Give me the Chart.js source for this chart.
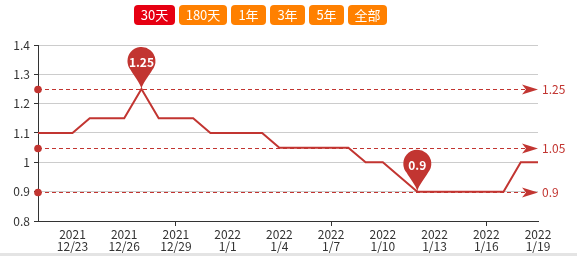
<!DOCTYPE html>
<html>
<head>
<meta charset="utf-8">
<script src="https://cdn.jsdelivr.net/npm/chart.js@4/dist/chart.umd.min.js"></script>
<style>
  html, body { margin: 0; padding: 0; background: #fff; }
  #wrap { position: relative; width: 577px; height: 256px; overflow: hidden; }
  #chart { position: absolute; left: 0; top: 0; }
  #range { position: absolute; left: 134px; top: 5px; display: flex; gap: 4px; }
  #range span {
    display: block; height: 20px; line-height: 20px; text-align: center;
    color: #fff; font: 13px "Noto Sans CJK SC", sans-serif; border-radius: 4px;
    background: #ff8000;
  }
  #range span.on { background: #e60012; }
  #foot { position: absolute; left: 0; top: 253px; width: 577px; height: 3px; background: #e4e4e4; }
</style>
</head>
<body>
<div id="wrap">
  <canvas id="chart" width="577" height="256"></canvas>
  <div id="range">
    <span class="on" style="width:41px">30天</span>
    <span style="width:48px">180天</span>
    <span style="width:35px">1年</span>
    <span style="width:35px">3年</span>
    <span style="width:35px">5年</span>
    <span style="width:39px">全部</span>
  </div>
  <div id="foot"></div>
</div>
<script>
// Daily values, 2021-12-21 .. 2022-01-19
const years = ['2021','2021','2021','2021','2021','2021','2021','2021','2021','2021','2021',
               '2022','2022','2022','2022','2022','2022','2022','2022','2022','2022',
               '2022','2022','2022','2022','2022','2022','2022','2022','2022'];
const days = ['12/21','12/22','12/23','12/24','12/25','12/26','12/27','12/28','12/29','12/30','12/31',
              '1/1','1/2','1/3','1/4','1/5','1/6','1/7','1/8','1/9','1/10',
              '1/11','1/12','1/13','1/14','1/15','1/16','1/17','1/18','1/19'];
const values = [1.1, 1.1, 1.1, 1.15, 1.15, 1.15, 1.25, 1.15, 1.15, 1.15, 1.1,
                1.1, 1.1, 1.1, 1.05, 1.05, 1.05, 1.05, 1.05, 1.0, 1.0,
                0.95, 0.9, 0.9, 0.9, 0.9, 0.9, 0.9, 1.0, 1.0];
const yMin = 0.8, yMax = 1.4, yStep = 0.1;

const RED = '#c23531';
const FONT = '"Noto Sans CJK SC", sans-serif';

const maxVal = Math.max(...values);
const minVal = Math.min(...values);
const avgVal = Math.round(values.reduce((a, b) => a + b, 0) / values.length * 100) / 100;
const maxIdx = values.indexOf(maxVal);
const minIdx = values.indexOf(minVal);
const fmt = v => String(parseFloat(v.toFixed(2)));

// Dashed reference lines (max / average / min) and pin markers
const marks = {
  id: 'marks',
  afterDatasetsDraw(chart) {
    const { ctx, chartArea: a, scales: { x, y } } = chart;
    ctx.save();
    [maxVal, avgVal, minVal].forEach(v => {
      const py = Math.round(y.getPixelForValue(v)) + 0.5;
      ctx.strokeStyle = RED; ctx.lineWidth = 1; ctx.setLineDash([4, 3]);
      ctx.beginPath(); ctx.moveTo(a.left, py); ctx.lineTo(a.right - 12, py); ctx.stroke();
      ctx.setLineDash([]);
      ctx.fillStyle = RED;
      ctx.beginPath(); ctx.arc(a.left, py, 3.8, 0, Math.PI * 2); ctx.fill();
      const tx = a.right;
      ctx.beginPath();
      ctx.moveTo(tx, py); ctx.lineTo(tx - 16, py - 5); ctx.lineTo(tx - 12, py);
      ctx.lineTo(tx - 16, py + 5); ctx.closePath(); ctx.fill();
      ctx.font = '12px ' + FONT; ctx.textAlign = 'left'; ctx.textBaseline = 'middle';
      ctx.fillText(fmt(v), tx + 4, py);
    });
    [[maxIdx, maxVal], [minIdx, minVal]].forEach(([i, v]) => {
      const px = x.getPixelForValue(i), tip = y.getPixelForValue(v);
      const r = 14, cy = tip - 28;
      const a1 = Math.PI * 0.22, a2 = Math.PI * 0.78;
      ctx.fillStyle = RED;
      ctx.beginPath();
      ctx.moveTo(px, tip);
      ctx.bezierCurveTo(px + 1, tip - 6, px + r * 0.55, cy + r * 1.05, px + r * Math.cos(a1), cy + r * Math.sin(a1));
      ctx.arc(px, cy, r, a1, a2, true);
      ctx.bezierCurveTo(px - r * 0.55, cy + r * 1.05, px - 1, tip - 6, px, tip);
      ctx.closePath(); ctx.fill();
      ctx.fillStyle = '#fff'; ctx.font = 'bold 12px ' + FONT;
      ctx.textAlign = 'center'; ctx.textBaseline = 'middle';
      ctx.fillText(fmt(v), px, cy + 1.5);
    });
    ctx.restore();
  }
};

new Chart(document.getElementById('chart'), {
  type: 'line',
  data: {
    labels: days,
    datasets: [{
      data: values,
      borderColor: RED,
      borderWidth: 2,
      pointRadius: 0,
      tension: 0,
      fill: false
    }]
  },
  options: {
    responsive: false,
    animation: false,
    events: [],
    layout: { padding: { top: 45, right: 39, left: 0, bottom: 0 } },
    plugins: { legend: { display: false }, tooltip: { enabled: false } },
    scales: {
      x: {
        type: 'category',
        offset: false,
        afterFit: s => { s.height = 35; },
        border: { display: true, color: '#333', width: 1 },
        grid: {
          drawOnChartArea: false,
          drawTicks: true,
          tickLength: 5,
          color: c => (c.index % 3 === 2 ? '#333' : 'rgba(0,0,0,0)'),
          tickColor: c => (c.index % 3 === 2 ? '#333' : 'rgba(0,0,0,0)')
        },
        ticks: {
          autoSkip: false,
          maxRotation: 0,
          minRotation: 0,
          padding: 2,
          color: '#333',
          font: { family: FONT, size: 12, lineHeight: 1.05 },
          callback: (v, i) => (i % 3 === 2 ? [years[i], days[i]] : null)
        }
      },
      y: {
        min: yMin,
        max: yMax,
        afterFit: s => { s.width = 38; },
        border: { display: true, color: '#333', width: 1 },
        grid: {
          color: c => (Math.abs(c.tick.value - yMin) < 1e-6 ? 'rgba(0,0,0,0)' : '#ccc'),
          tickColor: '#333',
          tickLength: 4,
          drawTicks: true
        },
        ticks: {
          stepSize: yStep,
          padding: 4,
          color: '#333',
          font: { family: FONT, size: 12 },
          callback: v => fmt(v)
        }
      }
    }
  },
  plugins: [marks]
});
</script>
</body>
</html>
